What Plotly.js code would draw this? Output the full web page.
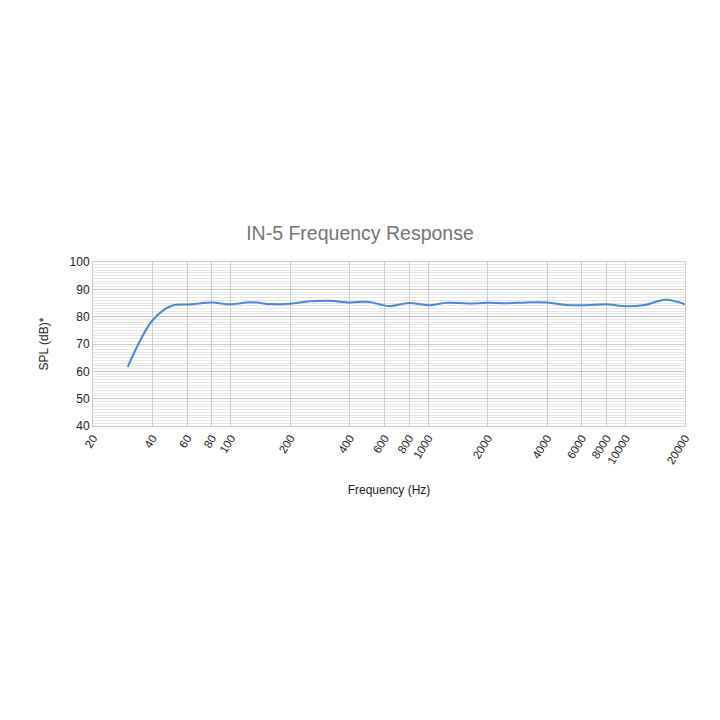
<!DOCTYPE html>
<html>
<head>
<meta charset="utf-8">
<script src="https://cdn.plot.ly/plotly-3.0.1.min.js"></script>
<style>html,body{margin:0;padding:0;background:#fff;}#chart{width:720px;height:720px;}</style>
</head>
<body>
<div id="chart"></div>
<script>
const freqs = [30, 40, 50, 63, 80, 100, 125, 160, 200, 250, 315, 400, 500, 630, 800, 1000, 1250, 1600, 2000, 2500, 3150, 4000, 5000, 6300, 8000, 10000, 12500, 16000, 20000];
const spl = [61.6, 78.6, 84.0, 84.5, 85.2, 84.5, 85.3, 84.6, 84.7, 85.6, 85.8, 85.2, 85.4, 83.9, 85.0, 84.2, 85.1, 84.8, 85.1, 84.9, 85.2, 85.2, 84.3, 84.2, 84.5, 83.8, 84.3, 86.2, 84.5];
const xTickVals = [20, 40, 60, 80, 100, 200, 400, 600, 800, 1000, 2000, 4000, 6000, 8000, 10000, 20000];
const xTickText = ["20", "40", "60", "80", "100", "200", "400", "600", "800", "1000", "2000", "4000", "6000", "8000", "10000", "20000"];
const yTickVals = [40, 50, 60, 70, 80, 90, 100];

const trace = {
  x: freqs, y: spl, type: 'scatter', mode: 'lines',
  line: {color: '#4a86e8', width: 2, shape: 'spline', smoothing: 1},
  hoverinfo: 'skip'
};
const layout = {
  width: 720, height: 720,
  margin: {l: 93, r: 35, t: 262, b: 294},
  paper_bgcolor: '#fff', plot_bgcolor: '#fff',
  font: {family: 'Liberation Sans, Arial, sans-serif', color: '#222', size: 12},
  showlegend: false,
  title: {text: 'IN-5 Frequency Response', x: 0.5, xanchor: 'center', y: 1 - 233/720, yanchor: 'middle',
          font: {size: 19.5, color: '#757575', family: 'Liberation Sans, Arial, sans-serif'}},
  xaxis: {
    type: 'log', range: [Math.log10(20), Math.log10(20000)],
    tickmode: 'array', tickvals: xTickVals, ticktext: xTickText, tickangle: -58,
    showgrid: true, gridcolor: '#cccccc', gridwidth: 1,
    showline: true, linecolor: '#cccccc', mirror: true, zeroline: false,
    ticks: '', tickfont: {size: 11.5, color: '#222'},
    title: {text: 'Frequency (Hz)', standoff: 20, font: {size: 12, color: '#222'}}
  },
  yaxis: {
    range: [40, 100], tickmode: 'array', tickvals: yTickVals,
    showgrid: true, gridcolor: '#c8c8c8', gridwidth: 1,
    minor: {dtick: 1, showgrid: true, gridcolor: '#e6e6e6', gridwidth: 1},
    showline: true, linecolor: '#cccccc', mirror: true, zeroline: false,
    ticks: '', tickfont: {size: 12, color: '#222'},
    title: {text: 'SPL (dB)*', standoff: 18, font: {size: 12, color: '#222'}}
  }
};
Plotly.newPlot('chart', [trace], layout, {displayModeBar: false, staticPlot: true});
</script>
</body>
</html>
